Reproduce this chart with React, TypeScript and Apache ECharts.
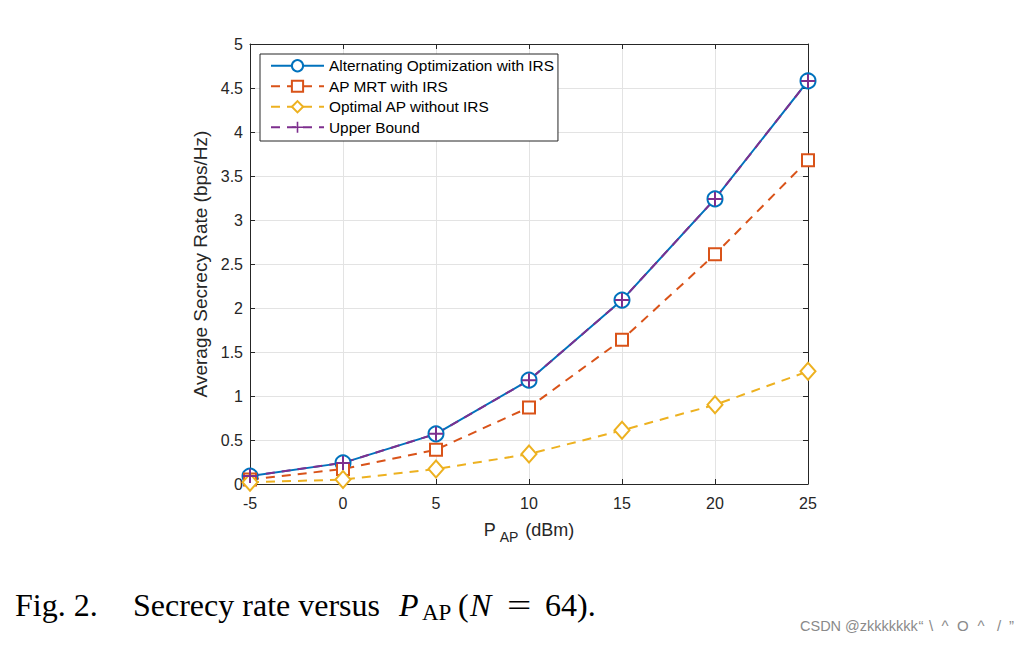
import React, { useEffect, useRef } from "react";
import * as echarts from "echarts";

const xValues = [-5, 0, 5, 10, 15, 20, 25];
const aoIRS = [0.09, 0.24, 0.57, 1.18, 2.09, 3.24, 4.58];
const mrtIRS = [0.05, 0.17, 0.39, 0.87, 1.64, 2.61, 3.68];
const noIRS = [0.02, 0.05, 0.17, 0.34, 0.61, 0.9, 1.28];
const upperBound = [0.09, 0.24, 0.57, 1.18, 2.09, 3.24, 4.58];
const seriesNames = [
  "Alternating Optimization with IRS",
  "AP MRT with IRS",
  "Optimal AP without IRS",
  "Upper Bound",
];

const BLUE = "#0072BD";
const RED = "#D95319";
const YEL = "#EDB120";
const PUR = "#7E2F8E";
const AX = "#262626";
const WM = "#8a8a8a";
const FONT = "'Liberation Sans', Arial, sans-serif";
const SERIF = "'Liberation Serif', 'Times New Roman', serif";
const PLUS = "path://M6,0H8V6H14V8H8V14H6V8H0V6H6Z";

const pairs = (ys: number[]) => xValues.map((x, i) => [x, ys[i]]);

export default function App() {
  const ref = useRef<HTMLDivElement>(null);
  useEffect(() => {
    const chart = echarts.init(ref.current!, undefined, { renderer: "svg" });
    const axisCommon = {
      axisLine: { show: true, onZero: false, lineStyle: { color: AX, width: 1 } },
      axisTick: { show: true, inside: true, length: 5, lineStyle: { color: AX } },
    };
    const capStyle = { fontFamily: SERIF, fontSize: 32, fill: "#000" };
    const wmStyle = { fontFamily: FONT, fontSize: 15, fill: WM };
    const wmChars: [string, number][] = [
      ["“", 918.5],
      ["\\", 929],
      ["^", 941.5],
      ["O", 957],
      ["^", 977.5],
      ["/", 997],
      ["”", 1009],
    ];
    chart.setOption({
      animation: false,
      backgroundColor: "#ffffff",
      grid: { left: 250, right: 226, top: 44, bottom: 164, containLabel: false },
      legend: {
        left: 260,
        top: 54,
        orient: "vertical",
        data: seriesNames,
        backgroundColor: "#ffffff",
        borderColor: AX,
        borderWidth: 1,
        padding: [3, 4, 5, 10],
        itemGap: 3,
        itemWidth: 53,
        itemHeight: 14,
        textStyle: { fontFamily: FONT, fontSize: 15.4, color: "#000", lineHeight: 17.5 },
      },
      xAxis: [
        {
          type: "value",
          min: -5,
          max: 25,
          interval: 5,
          position: "bottom",
          ...axisCommon,
          splitLine: { show: true, lineStyle: { color: "#e3e3e3" } },
          axisLabel: { fontFamily: FONT, fontSize: 16, color: AX, margin: 11 },
          name: "{a|P}{b|AP}{a| (dBm)}",
          nameLocation: "middle",
          nameGap: 28,
          nameTextStyle: {
            rich: {
              a: { fontFamily: FONT, fontSize: 18, color: AX, lineHeight: 22 },
              b: { fontFamily: FONT, fontSize: 14, color: AX, padding: [14, 2, 0, 4], lineHeight: 22 },
            },
          },
        },
        {
          type: "value",
          min: -5,
          max: 25,
          interval: 5,
          position: "top",
          ...axisCommon,
          splitLine: { show: false },
          axisLabel: { show: false },
        },
      ],
      yAxis: [
        {
          type: "value",
          min: 0,
          max: 5,
          interval: 0.5,
          position: "left",
          ...axisCommon,
          splitLine: { show: true, lineStyle: { color: "#e3e3e3" } },
          axisLabel: { fontFamily: FONT, fontSize: 16, color: AX, margin: 7 },
          name: "Average Secrecy Rate (bps/Hz)",
          nameLocation: "middle",
          nameGap: 31,
          nameTextStyle: { fontFamily: FONT, fontSize: 19, color: AX },
        },
        {
          type: "value",
          min: 0,
          max: 5,
          interval: 0.5,
          position: "right",
          ...axisCommon,
          splitLine: { show: false },
          axisLabel: { show: false },
        },
      ],
      series: [
        {
          name: seriesNames[0],
          type: "line",
          data: pairs(aoIRS),
          symbol: "emptyCircle",
          symbolSize: 15,
          lineStyle: { color: BLUE, width: 2, type: "solid" },
          itemStyle: { color: BLUE, borderColor: BLUE, borderWidth: 2 },
        },
        {
          name: seriesNames[1],
          type: "line",
          data: pairs(mrtIRS),
          symbol: "emptyRect",
          symbolSize: 12,
          lineStyle: { color: RED, width: 2, type: [9, 7] },
          itemStyle: { color: RED, borderColor: RED, borderWidth: 2 },
        },
        {
          name: seriesNames[2],
          type: "line",
          data: pairs(noIRS),
          symbol: "emptyDiamond",
          symbolSize: [15, 17],
          lineStyle: { color: YEL, width: 2, type: [9, 7] },
          itemStyle: { color: YEL, borderColor: YEL, borderWidth: 2 },
        },
        {
          name: seriesNames[3],
          type: "line",
          data: pairs(upperBound),
          symbol: PLUS,
          symbolSize: 14,
          lineStyle: { color: PUR, width: 2, type: [9, 7] },
          itemStyle: { color: PUR, borderWidth: 0 },
        },
      ],
      graphic: [
        { type: "text", left: 15, top: 589, style: { ...capStyle, text: "Fig. 2." } },
        { type: "text", left: 133, top: 589, style: { ...capStyle, text: "Secrecy rate versus" } },
        { type: "text", left: 399, top: 589, style: { ...capStyle, text: "P", fontStyle: "italic" } },
        { type: "text", left: 422, top: 601, style: { ...capStyle, fontSize: 23, text: "AP" } },
        { type: "text", left: 458, top: 589, style: { ...capStyle, text: "(" } },
        { type: "text", left: 470, top: 589, style: { ...capStyle, text: "N", fontStyle: "italic" } },
        { type: "text", x: 507, y: 589, scaleX: 1.35, style: { ...capStyle, text: "=" } },
        { type: "text", left: 545, top: 589, style: { ...capStyle, text: "64)." } },
        { type: "text", left: 800, top: 618, style: { ...wmStyle, fontSize: 14.5, text: "CSDN @zkkkkkkk" } },
        ...wmChars.map(([c, x]) => ({
          type: "text",
          left: x,
          top: 618,
          style: { ...wmStyle, text: c },
        })),
      ],
    });
    return () => chart.dispose();
  }, []);
  return (
    <div
      ref={ref}
      style={{ position: "absolute", left: 0, top: 0, width: 1034, height: 648 }}
    />
  );
}
